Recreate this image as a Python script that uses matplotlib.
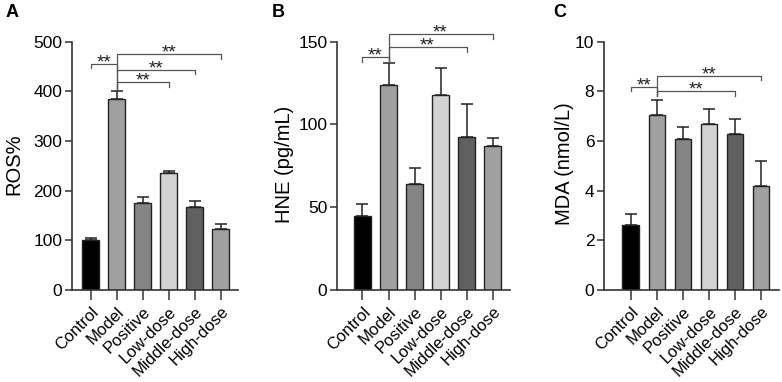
import matplotlib
matplotlib.use("Agg")
import matplotlib.pyplot as plt
import numpy as np

plt.rcParams['font.family'] = ['Liberation Sans', 'DejaVu Sans']

groups = ["Control", "Model", "Positive", "Low-dose", "Middle-dose", "High-dose"]
bar_colors = ["#000000", "#a0a0a0", "#858585", "#d2d2d2", "#606060", "#a0a0a0"]

ros_mean = [100, 385, 175, 235, 168, 123]
ros_err = [5, 15, 12, 5, 12, 10]
hne_mean = [45, 124, 64, 117.5, 92.5, 87]
hne_err = [7, 13, 10, 16.5, 20, 5]
mda_mean = [2.6, 7.05, 6.1, 6.7, 6.3, 4.18]
mda_err = [0.45, 0.6, 0.45, 0.58, 0.58, 1.02]

# significance brackets: (i, j, y_line, drop_left, drop_right)
ros_sig = [(0, 1, 456, 448, 440), (1, 5, 475, 402, 466), (1, 4, 443, 402, 435), (1, 3, 419, 402, 409)]
hne_sig = [(0, 1, 141, 138, 138), (1, 5, 154.5, 138, 151.5), (1, 4, 146.5, 138, 144)]
mda_sig = [(0, 1, 8.16, 8.0, 7.9), (1, 5, 8.6, 7.8, 8.45), (1, 4, 8.03, 7.8, 7.83)]

panels = [
    ("A", ros_mean, ros_err, "ROS%", (0, 500), [0, 100, 200, 300, 400, 500], ros_sig, 72, 238, -0.72, 5.67, 13.5, 6),
    ("B", hne_mean, hne_err, "HNE (pg/mL)", (0, 150), [0, 50, 100, 150], hne_sig, 337, 510, -0.98, 5.67, 285, 272),
    ("C", mda_mean, mda_err, "MDA (nmol/L)", (0, 10), [0, 2, 4, 6, 8, 10], mda_sig, 604, 779, -1.03, 5.69, 565, 553),
]

W, H = 782, 382
fig = plt.figure(figsize=(W / 100, H / 100), dpi=100)
axis_col = "#333333"

for letter, mean, err, ylab, ylim, yticks, sigs, x0, x1, xl, xr, ylab_x, let_x in panels:
    bottom_px, top_px = 290, 41.7
    ax = fig.add_axes([x0 / W, (H - bottom_px) / H, (x1 - x0) / W, (bottom_px - top_px) / H])
    x = np.arange(len(groups))
    ax.bar(x, mean, width=0.64, color=bar_colors, edgecolor="#222222", linewidth=1.0, zorder=2)
    ax.errorbar(x, mean, yerr=[np.zeros(len(err)), err], fmt="none", ecolor="#222222",
                elinewidth=1.1, capsize=4.5, capthick=1.1, zorder=1)
    ax.set_xlim(xl, xr)
    ax.set_ylim(*ylim)
    ax.set_yticks(yticks)
    ax.set_xticks(x)
    ax.set_xticklabels(groups, rotation=45, ha="right", rotation_mode="anchor", fontsize=12)
    ax.tick_params(axis="y", labelsize=12.5, length=5, width=1.1, color=axis_col, pad=2)
    ax.tick_params(axis="x", length=7, width=1.1, color=axis_col, pad=3)
    for s in ["top", "right"]:
        ax.spines[s].set_visible(False)
    for s in ["left", "bottom"]:
        ax.spines[s].set_linewidth(1.2)
        ax.spines[s].set_color(axis_col)
    fig.text(ylab_x / W, 1 - 164 / H, ylab, rotation=90, ha="center", va="center", fontsize=14.5)
    fig.text(let_x / W, 1 - 4 / H, letter, ha="left", va="top", fontsize=13, fontweight="bold")
    for i, j, yl, dl, dr in sigs:
        ax.plot([i, i, j, j], [dl, yl, yl, dr], color="#555555", lw=0.9, clip_on=False, zorder=3)
        ax.annotate("**", xy=((i + j) / 2, yl), xytext=(0, -2.5), textcoords="offset points",
                    ha="center", va="baseline", fontsize=13.5, color="#222222",
                    annotation_clip=False)

fig.savefig("out.png", dpi=100)
